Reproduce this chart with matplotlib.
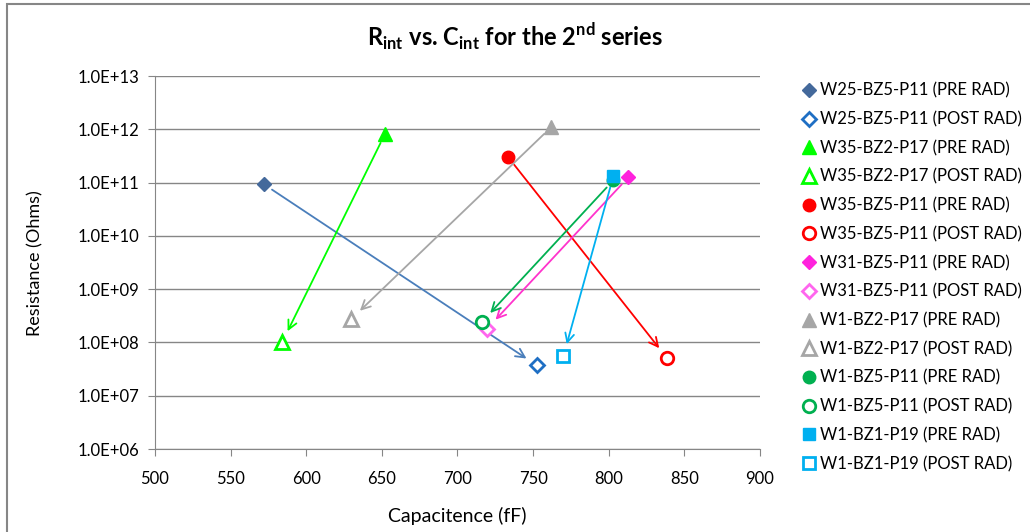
import matplotlib
matplotlib.use("Agg")
import matplotlib.pyplot as plt
from matplotlib.patches import Rectangle
from matplotlib.ticker import FixedLocator, NullLocator

plt.rcParams["font.family"] = ["Lato", "DejaVu Sans"]
plt.rcParams["mathtext.fontset"] = "custom"
plt.rcParams["mathtext.rm"] = "Lato"
plt.rcParams["mathtext.bf"] = "Lato:bold"

# data
devices = ["W25-BZ5-P11", "W35-BZ2-P17", "W35-BZ5-P11", "W31-BZ5-P11",
           "W1-BZ2-P17", "W1-BZ5-P11", "W1-BZ1-P19"]
pre_cap = [572, 652, 733.5, 813, 762, 803, 803]
pre_res = [9.3e10, 8.1e11, 3.0e11, 1.26e11, 1.1e12, 1.1e11, 1.3e11]
post_cap = [752.5, 584, 838.5, 719.5, 629.5, 716, 770]
post_res = [3.7e7, 1.0e8, 5.1e7, 1.8e8, 2.7e8, 2.4e8, 5.5e7]

x_ticks = [500, 550, 600, 650, 700, 750, 800, 850, 900]
y_ticks = [1e6, 1e7, 1e8, 1e9, 1e10, 1e11, 1e12, 1e13]
y_tick_labels = ["1.0E+06", "1.0E+07", "1.0E+08", "1.0E+09",
                 "1.0E+10", "1.0E+11", "1.0E+12", "1.0E+13"]

markers = ["D", "^", "o", "D", "^", "o", "s"]
pre_colors = ["#44699B", "#00FF00", "#FF0000", "#FF22DD", "#A6A6A6", "#00B050", "#00B0F0"]
post_colors = ["#1F6FC4", "#00FF00", "#FF0000", "#FF66EE", "#A6A6A6", "#00B050", "#00B0F0"]
arrow_colors = ["#4A7EBB", "#00FF00", "#FF0000", "#FF33CC", "#A6A6A6", "#00B050", "#00B0F0"]
sizes = {"D": 7.5, "^": 9.5, "o": 9, "s": 9}

fig = plt.figure(figsize=(10.3, 5.32), dpi=100)
ax = fig.add_axes([155 / 1030, 1 - 449 / 532, 605 / 1030, 373 / 532])

grid_c = "#868686"
ax.set_xlim(500, 900)
ax.set_yscale("log")
ax.set_ylim(1e6, 1e13)
ax.xaxis.set_major_locator(FixedLocator(x_ticks))
ax.yaxis.set_major_locator(FixedLocator(y_ticks))
ax.yaxis.set_minor_locator(NullLocator())
ax.set_yticklabels(y_tick_labels)
ax.grid(axis="y", color=grid_c, lw=1)
ax.set_axisbelow(True)
for s in ["top", "right"]:
    ax.spines[s].set_visible(False)
for s in ["left", "bottom"]:
    ax.spines[s].set_color(grid_c)
ax.tick_params(axis="both", direction="out", length=5, color=grid_c,
               labelsize=12, labelcolor="black")
ax.tick_params(axis="x", pad=11)
ax.tick_params(axis="y", pad=6)

for i, dev in enumerate(devices):
    ax.annotate("", xy=(post_cap[i], post_res[i]), xytext=(pre_cap[i], pre_res[i]),
                arrowprops=dict(arrowstyle="->", color=arrow_colors[i], lw=1.3,
                                shrinkA=7, shrinkB=9, mutation_scale=16))
for i, dev in enumerate(devices):
    ms = sizes[markers[i]]
    ax.plot([pre_cap[i]], [pre_res[i]], linestyle="none", marker=markers[i],
            ms=ms, color=pre_colors[i], label=dev + " (PRE RAD)", zorder=5)
    ax.plot([post_cap[i]], [post_res[i]], linestyle="none", marker=markers[i],
            ms=ms, markerfacecolor="white", markeredgecolor=post_colors[i],
            markeredgewidth=2, label=dev + " (POST RAD)", zorder=5)

fig.legend(loc="upper left", bbox_to_anchor=(797 / 1030, 1 - 76 / 532),
           frameon=False, fontsize=12, handlelength=0.6, handletextpad=0.4,
           labelspacing=0.755, borderaxespad=0)

fig.text(515 / 1030, 1 - 36 / 532,
         r"R$_{\mathbf{int}}$ vs. C$_{\mathbf{int}}$ for the 2$^{\mathbf{nd}}$ series",
         ha="center", va="center", fontsize=17, fontweight="bold")
fig.text(457 / 1030, 1 - 516 / 532, "Capacitence (fF)", ha="center", va="center", fontsize=14)
fig.text(35 / 1030, 1 - 263 / 532, "Resistance (Ohms)", ha="center", va="center",
         fontsize=13, rotation=90)

fig.patches.append(Rectangle((7 / 1030, -0.05), 1.1, 1 - 4 / 532 + 0.05,
                             transform=fig.transFigure, fill=False,
                             edgecolor="#868686", lw=1.5))

fig.savefig("out.png", dpi=100)
